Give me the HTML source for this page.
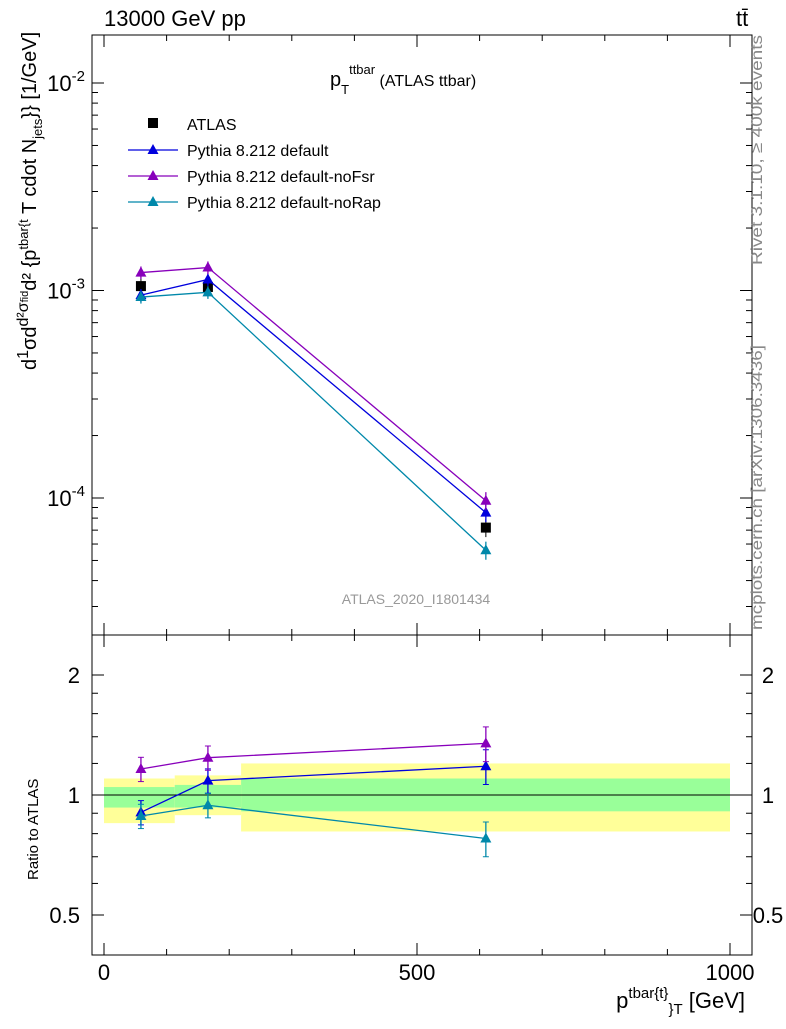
<!DOCTYPE html>
<html><head><meta charset="utf-8"><style>
body{margin:0;background:#fff;}
svg text{font-family:"Liberation Sans",sans-serif;}
</style></head><body>
<svg id="c" width="786" height="1024" xmlns="http://www.w3.org/2000/svg"></svg>
<script>
const xBins=[[0,113],[113,219],[219,1000]];
const xCenters=[59,166,610];
const atlasVals=[1.05e-3,1.04e-3,7.2e-5];
const atlasErr=[0.12,0.1,0.1];
const defVals=[0.95e-3,1.13e-3,8.5e-5];
const fsrVals=[1.22e-3,1.29e-3,9.7e-5];
const rapVals=[0.93e-3,0.98e-3,5.6e-5];
const mcErr=[0.07,0.07,0.1];
const yellowLo=[0.85,0.89,0.81],yellowHi=[1.10,1.12,1.20];
const greenLo=[0.93,0.93,0.91],greenHi=[1.047,1.06,1.10];
const xTicks=[0,500,1000];
const seriesNames=["Pythia 8.212 default","Pythia 8.212 default-noFsr","Pythia 8.212 default-noRap"];
const colors=["#0000dd","#8800bb","#0088aa"];

const NS="http://www.w3.org/2000/svg",svg=document.getElementById('c');
function el(t,a,p){const e=document.createElementNS(NS,t);for(const k in a)e.setAttribute(k,a[k]);(p||svg).appendChild(e);return e;}
const L=92,R=752,T=35,MB=635,RB=955;
const X=v=>104+v*0.626;
const Y=v=>83-(Math.log10(v)+2)*207.5;
const YR=v=>795-Math.log2(v)*120;

let f=el('rect',{x:L,y:T,width:R-L,height:MB-T,fill:'none',stroke:'#000'});

f=el('rect',{x:L,y:MB,width:R-L,height:RB-MB,fill:'none',stroke:'#000'});


for(let v=0;v<=1000;v+=100){const maj=v%500==0;const x=X(v);
 for(const [yb,yt] of [[MB,T],[RB,MB]]){
  el('line',{x1:x,x2:x,y1:yb,y2:yb-(maj?12:6),stroke:'#000'});
  el('line',{x1:x,x2:x,y1:yt,y2:yt+(maj?12:6),stroke:'#000'});}}
xTicks.forEach(v=>{const t=el('text',{x:X(v),y:980,'font-size':22,'text-anchor':'middle'});t.textContent=v;
 });
for(let d=-5;d<=-1;d++)for(let m=1;m<10;m++){const v=m*Math.pow(10,d);const y=Y(v);if(y<T||y>MB)continue;
 const len=m==1?12:6;el('line',{x1:L,x2:L+len,y1:y,y2:y,stroke:'#000'});el('line',{x1:R,x2:R-len,y1:y,y2:y,stroke:'#000'});}
[-2,-3,-4].forEach(e=>{const t=el('text',{x:85,y:Y(Math.pow(10,e))+8,'font-size':22,'text-anchor':'end'});
 t.innerHTML='10<tspan dy="-10" font-size="15">'+e+'</tspan>';});
[0.5,0.6,0.7,0.8,0.9,1,1.2,1.4,1.6,1.8,2].forEach(v=>{const y=YR(v);const maj=(v==0.5||v==1||v==2);const len=maj?12:6;
 el('line',{x1:L,x2:L+len,y1:y,y2:y,stroke:'#000'});el('line',{x1:R,x2:R-len,y1:y,y2:y,stroke:'#000'});});
[[2,'2'],[1,'1'],[0.5,'0.5']].forEach(([v,s])=>{for(const [x,a] of [[80,'end'],[768,'middle']]){const t=el('text',{x:x,y:YR(v)+8,'font-size':22,'text-anchor':a});t.textContent=s;
 }});

xBins.forEach((b,i)=>{let r=el('rect',{x:X(b[0]),width:X(b[1])-X(b[0]),y:YR(yellowHi[i]),height:YR(yellowLo[i])-YR(yellowHi[i]),fill:'#ffff99'});
 
 r=el('rect',{x:X(b[0]),width:X(b[1])-X(b[0]),y:YR(greenHi[i]),height:YR(greenLo[i])-YR(greenHi[i]),fill:'#99ff99'});
 });
el('line',{x1:L,x2:R,y1:YR(1),y2:YR(1),stroke:'#000'});

atlasVals.forEach((v,i)=>{const x=X(xCenters[i]);
 el('line',{x1:x,x2:x,y1:Y(v*(1+atlasErr[i])),y2:Y(v*(1-atlasErr[i])),stroke:'#000'});
 const r=el('rect',{x:x-5,y:Y(v)-5,width:10,height:10,fill:'#000'});
 });

function tri(x,y,c,n){const p=el('polygon',{points:`${x},${y-6} ${x-5.5},${y+4} ${x+5.5},${y+4}`,fill:c});}
[defVals,fsrVals,rapVals].forEach((vals,s)=>{const c=colors[s];
 const pl=el('polyline',{points:vals.map((v,i)=>X(xCenters[i])+','+Y(v)).join(' '),fill:'none',stroke:c,'stroke-width':1.3});
 
 const rv=vals.map((v,i)=>v/atlasVals[i]);
 const pr=el('polyline',{points:rv.map((v,i)=>X(xCenters[i])+','+YR(v)).join(' '),fill:'none',stroke:c,'stroke-width':1.3});
 
 vals.forEach((v,i)=>{const x=X(xCenters[i]);
  el('line',{x1:x,x2:x,y1:Y(v*(1+mcErr[i])),y2:Y(v*(1-mcErr[i])),stroke:c,'stroke-width':1.3});
  tri(x,Y(v),c,'series-point-'+s);
  const r=rv[i];el('line',{x1:x,x2:x,y1:YR(r*(1+mcErr[i])),y2:YR(r*(1-mcErr[i])),stroke:c,'stroke-width':1.3});
  [YR(r*(1+mcErr[i])),YR(r*(1-mcErr[i]))].forEach(y=>el('line',{x1:x-3,x2:x+3,y1:y,y2:y,stroke:c}));
  tri(x,YR(r),c,'ratio-point-'+s);});});

let r=el('rect',{x:148,y:118,width:10,height:10,fill:'#000'});
let t=el('text',{x:187,y:130,'font-size':16});t.textContent='ATLAS';
seriesNames.forEach((n,s)=>{const y=150+s*26;el('line',{x1:128,x2:178,y1:y,y2:y,stroke:colors[s],'stroke-width':1.3});tri(153,y,colors[s],'legend-marker');
 const tt=el('text',{x:187,y:y+6,'font-size':16});tt.textContent=n;});
</script>
<svg width="786" height="1024" style="position:absolute;left:0;top:0" xmlns="http://www.w3.org/2000/svg">
<text x="104" y="26" font-size="22" font-family="Liberation Sans">13000 GeV pp</text>
<text x="736" y="26" font-size="22" font-family="Liberation Sans">tt̄</text>
<text x="330" y="86" font-size="20" font-family="Liberation Sans">p<tspan dy="8" font-size="13">T</tspan><tspan dy="-20" font-size="13">ttbar</tspan><tspan dy="12" font-size="16"> (ATLAS ttbar)</tspan></text>
<text x="416" y="604" font-size="14" fill="#999" text-anchor="middle" font-family="Liberation Sans">ATLAS_2020_I1801434</text>
<text transform="translate(762,265) rotate(-90)" font-size="16" fill="#888" textLength="230" lengthAdjust="spacingAndGlyphs" font-family="Liberation Sans">Rivet 3.1.10, ≥ 400k events</text>
<text transform="translate(762,630) rotate(-90)" font-size="16" fill="#888" textLength="285" lengthAdjust="spacingAndGlyphs" font-family="Liberation Sans">mcplots.cern.ch [arXiv:1306.3436]</text>
<text transform="translate(36,370) rotate(-90)" font-size="20" font-family="Liberation Sans">d<tspan dy="-8" font-size="16">1</tspan><tspan dy="8">σ</tspan>d<tspan dy="-8" font-size="16">d²σ<tspan font-size="11">fid</tspan></tspan><tspan dy="8">d² {p</tspan><tspan dy="-8" font-size="13">tbar{t</tspan><tspan dy="8">  T</tspan> cdot N<tspan dy="6" font-size="13">jets</tspan><tspan dy="-6">}} [1/GeV]</tspan></text>
<text transform="translate(38,880) rotate(-90)" font-size="15" font-family="Liberation Sans">Ratio to ATLAS</text>
<text x="745" y="1008" font-size="22" text-anchor="end" font-family="Liberation Sans">p<tspan dy="-10" font-size="15">tbar{t}</tspan><tspan dy="16" font-size="15">}</tspan><tspan dy="0" font-size="15">T</tspan><tspan dy="-6"> [GeV]</tspan></text>
</svg>
</body></html>
